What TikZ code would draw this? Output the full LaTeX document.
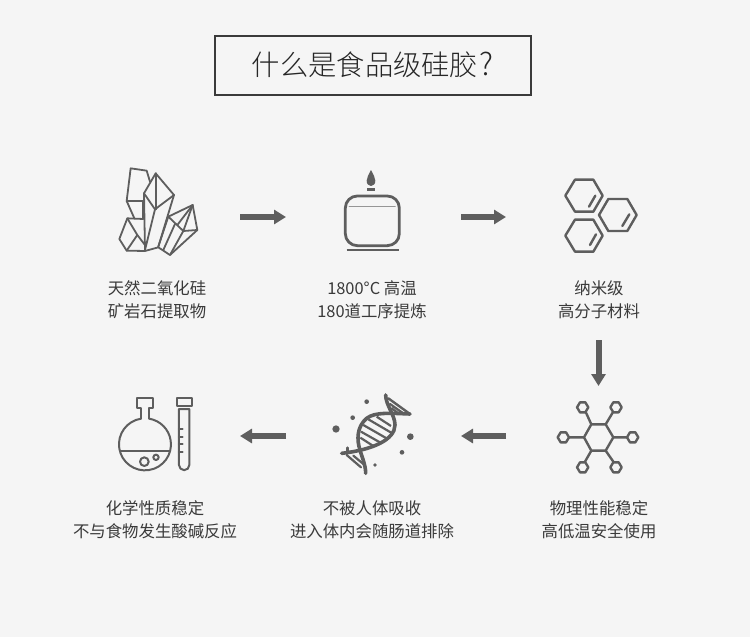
\documentclass[tikz,border=0pt]{standalone}
\usepackage{fontspec}
\usetikzlibrary{arrows.meta}
\setmainfont{Noto Sans CJK SC}
\newfontfamily\titlefont{Noto Sans CJK SC Light}
\definecolor{bgc}{HTML}{F5F5F5}
\definecolor{ink}{HTML}{5E5E5E}
\definecolor{txt}{HTML}{3A3A3A}
\tikzset{
  x=1pt,y=-1pt,
  icon/.style={shift={#1},x=0.3333pt,y=-0.3333pt,draw=ink,line width=1.8pt,line join=round,line cap=round},
  capt/.style={font=\fontsize{16.4}{23}\selectfont,text=txt,align=center,inner sep=0pt},
  flow/.style={draw=ink,line width=6pt,-{Triangle[length=12pt,width=14pt]}},
}
\begin{document}
\begin{tikzpicture}
\useasboundingbox (0,0) rectangle (750,637);
\fill[bgc] (0,0) rectangle (750,637);
\node[draw=txt,line width=2pt,minimum width=316pt,minimum height=59pt,inner sep=0pt,font=\titlefont\fontsize{28.3}{32}\selectfont,text=black!85] (title) at (372.5,65) {什么是食品级硅胶\kern1pt{\fontsize{31}{32}\selectfont ?}};
% crystals
\begin{scope}[icon={(100,150)}]
\draw (150,95)--(140,62)--(92,55)--(80,153)--(130,153);
\draw (80,153)--(103,205);
\draw (130,153)--(130,207);
\draw (167,70)--(222,135)--(165,178)--(132,130)--cycle;
\draw (167,70)--(167,178);
\draw (132,130)--(135,300);
\draw (165,178)--(135,300);
\draw (222,135)--(175,290);
\draw (130,207)--(82,205)--(58,267)--(80,302)--(135,303)--(175,292)--(210,315)--(292,240)--(278,165)--(205,200)--(175,290);
\draw (82,205)--(112,255)--(135,285);
\draw (112,255)--(80,302);
\draw (205,200)--(250,243)--(278,165);
\draw (250,243)--(292,240);
\draw (250,243)--(210,315);
\draw (225,222)--(190,300);
\draw (232,225)--(278,165);
\end{scope}
% candle
\begin{scope}[icon={(320,160)},line width=2.8pt]
\draw[rounded corners=12pt] (76,108) rectangle (238,257);
\draw[line width=1.6pt,draw=ink!65] (88,140)--(225,140);
\draw[line width=2.6pt,line cap=butt] (80,270)--(236,270);
\fill[ink] (153,30) .. controls (160,45) and (166,52) .. (166,62) .. controls (166,72) and (160,78) .. (153,78) .. controls (146,78) and (140,72) .. (140,62) .. controls (140,52) and (146,45) .. (153,30) -- cycle;
\fill[ink] (140,85) rectangle (166,93);
\end{scope}
% hexagons
\begin{scope}[icon={(550,165)},line width=2.4pt]
\draw (46,92)--(75,44)--(130,44)--(158,92)--(130,140)--(75,140)--cycle;
\draw (117,125)--(136,92);
\draw (147,150)--(175,102)--(232,102)--(260,150)--(232,198)--(175,198)--cycle;
\draw (217,183)--(238,148);
\draw (46,212)--(75,164)--(130,164)--(158,212)--(130,260)--(75,260)--cycle;
\draw (120,240)--(138,208);
\end{scope}
% molecule
\begin{scope}[icon={(550,390)},line width=2.4pt]
\draw (102,142)--(124,103)--(167,103)--(190,142)--(167,182)--(124,182)--cycle;
\foreach \cx/\cy in {98/52,198/52,40/142,248/142,98/232,198/232}
  \draw (\cx-17,\cy)--(\cx-8,\cy-15)--(\cx+8,\cy-15)--(\cx+17,\cy)--(\cx+8,\cy+15)--(\cx-8,\cy+15)--cycle;
\draw (124,103)--(108,68) (167,103)--(188,68) (102,142)--(57,142) (190,142)--(232,142) (124,182)--(105,215) (167,182)--(190,215);
\end{scope}
% dna
\begin{scope}[icon={(335,390)},line width=2.4pt]
\foreach \cx/\cy/\r in {95/35/7,53/83/7,3/117/11,226/140/10,201/187/7,120/225/5.5}
  \fill[ink] (\cx,\cy) circle[radius=\r];
\draw[line width=2.2pt,line cap=butt] (125,80)--(168,108) (100,88)--(172,130) (85,105)--(160,148) (78,125)--(140,160) (76,143)--(118,170);
\draw[line width=2.2pt] (165,42)--(205,70) (170,55)--(190,70);
\draw[line width=2.2pt] (35,195)--(78,232) (55,197)--(85,222);
\draw[line width=3.6pt] (152,15) .. controls (152,45) and (180,75) .. (180,105) .. controls (180,150) and (110,180) .. (20,190);
\draw[line width=3.6pt] (225,72) .. controls (170,70) and (120,65) .. (95,85) .. controls (65,110) and (65,150) .. (75,180) .. controls (82,205) and (92,225) .. (92,250);
\draw (160,25)--(225,72);
\draw (38,173)--(38,190);
\end{scope}
% flask
\begin{scope}[icon={(105,385)},line width=2pt]
\draw (108,101)--(108,68)--(97,68)--(97,40)--(143,40)--(143,68)--(133,68)--(133,101);
\draw (108,101) arc[start angle=-98.8,delta angle=-341.6,radius=78];
\draw (46,198)--(194,198);
\draw (118,230) circle[radius=13];
\draw (153,217) circle[radius=8];
\draw (215,40) rectangle (260,62);
\draw (222,72)--(222,240) arc[start angle=180,end angle=0,radius=15.5] --(253,72)--cycle;
\draw (222,132)--(233,132) (222,155)--(233,155) (222,178)--(233,178) (222,200)--(233,200);
\end{scope}
% arrows
\coordinate (a1s) at (240,217); \coordinate (a1e) at (286,217);
\coordinate (a2s) at (461,217); \coordinate (a2e) at (506,217);
\coordinate (a3s) at (598.5,340); \coordinate (a3e) at (598.5,386);
\coordinate (a4s) at (506,436); \coordinate (a4e) at (461,436);
\coordinate (a5s) at (286,436); \coordinate (a5e) at (240,436);
\draw[flow] (a1s)--(a1e);
\draw[flow] (a2s)--(a2e);
\draw[flow] (a3s)--(a3e);
\draw[flow] (a4s)--(a4e);
\draw[flow] (a5s)--(a5e);
% captions
\node[capt] (c1) at (157,300) {天然二氧化硅\\矿岩石提取物};
\node[capt] (c2) at (372,300) {1800°C 高温\\180道工序提炼};
\node[capt] (c3) at (599,300) {纳米级\\高分子材料};
\node[capt] (c4) at (599,520) {物理性能稳定\\高低温安全使用};
\node[capt] (c5) at (372,520) {不被人体吸收\\进入体内会随肠道排除};
\node[capt] (c6) at (155,520) {化学性质稳定\\不与食物发生酸碱反应};
\end{tikzpicture}
\end{document}
